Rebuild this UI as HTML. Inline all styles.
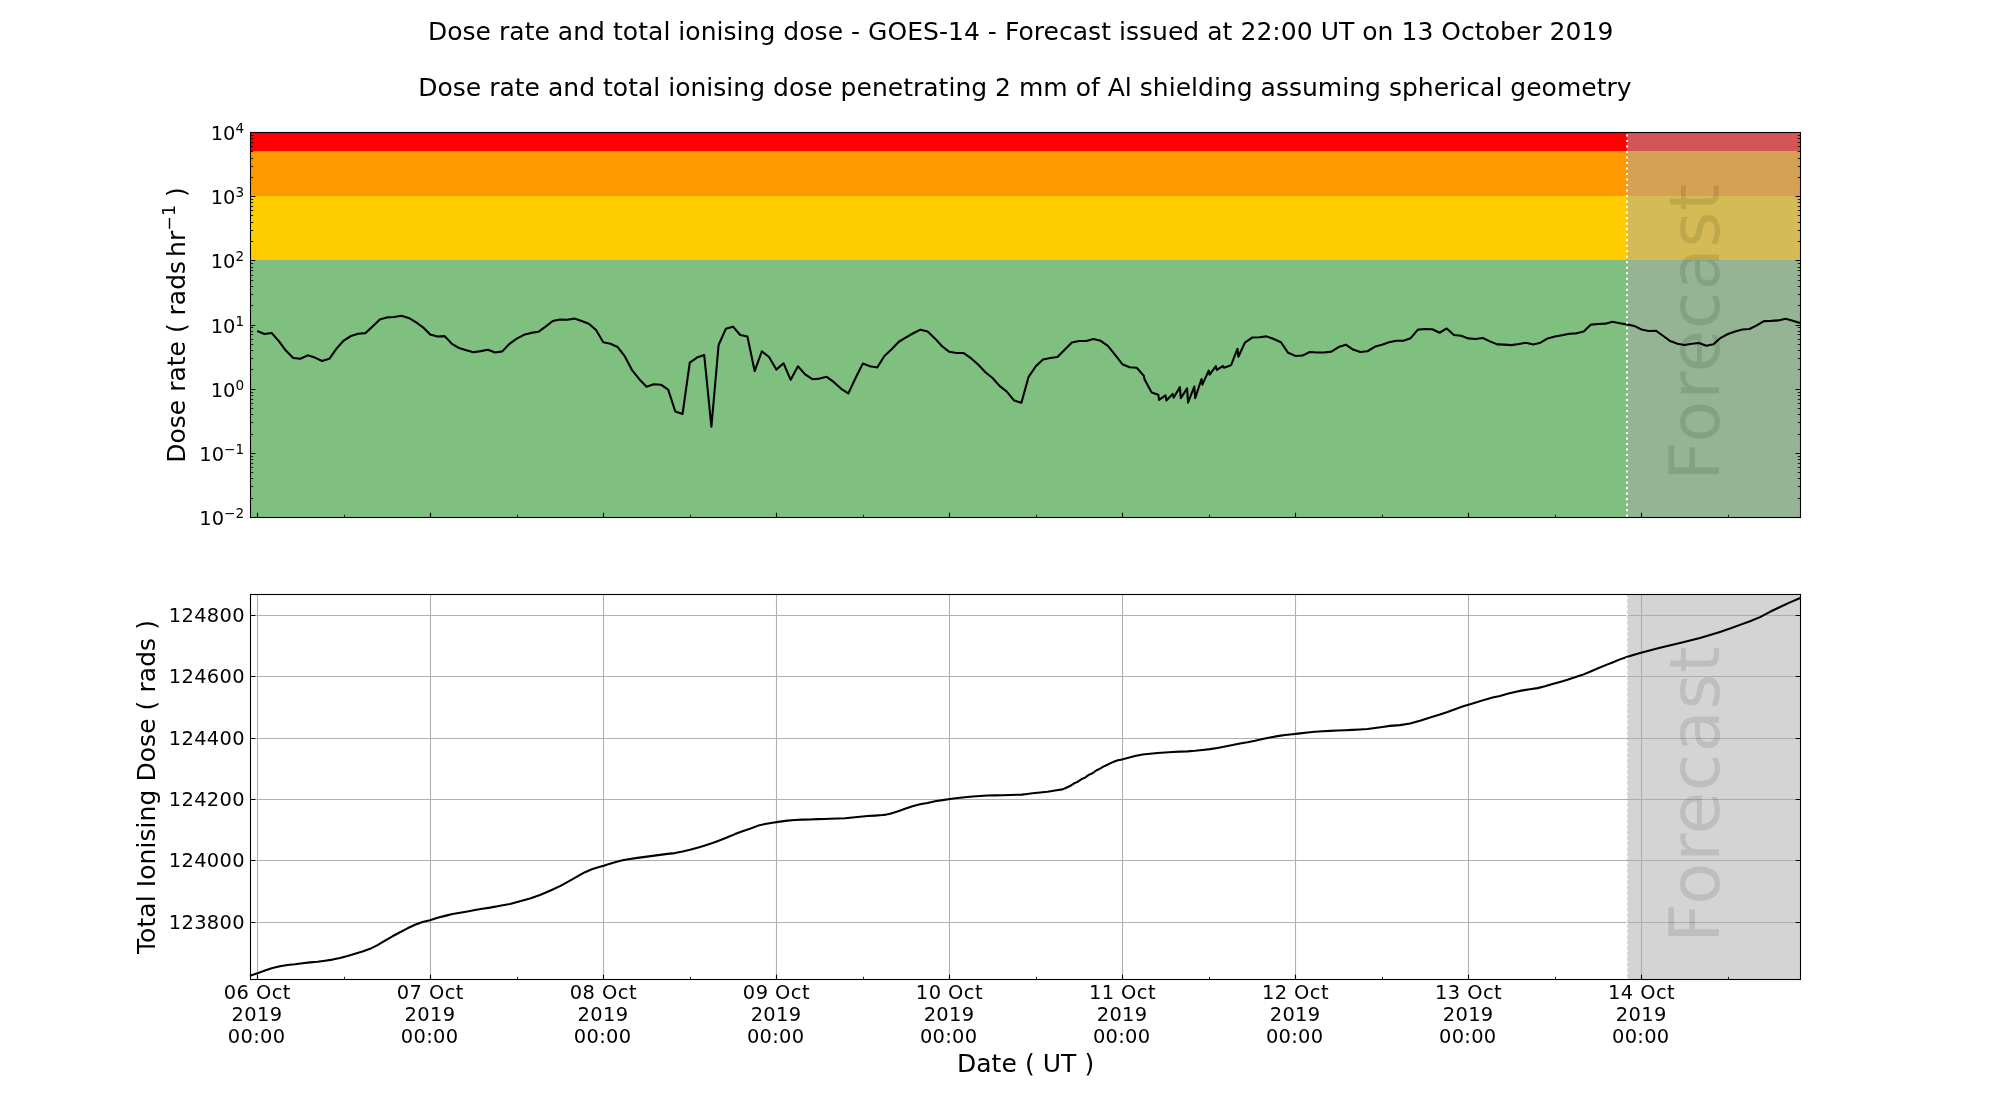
<!DOCTYPE html>
<html lang="en"><head><meta charset="utf-8"><title>Dose rate and total ionising dose - GOES-14</title>
<style>html,body{margin:0;padding:0;background:#fff;}body{width:2000px;height:1100px;overflow:hidden;}svg{display:block;will-change:transform;}text{font-family:"DejaVu Sans","Liberation Sans",sans-serif;fill:#000;}</style></head><body>
<svg width="2000" height="1100" viewBox="0 0 2000 1100">
<rect width="2000" height="1100" fill="#fff"/>
<text x="1020.6" y="40" font-size="25" text-anchor="middle" textLength="1185.45" lengthAdjust="spacing">Dose rate and total ionising dose - GOES-14 - Forecast issued at 22:00 UT on 13 October 2019</text>
<text x="1024.9" y="96" font-size="25" text-anchor="middle" textLength="1213.4" lengthAdjust="spacing">Dose rate and total ionising dose penetrating 2 mm of Al shielding assuming spherical geometry</text>
<rect x="250.5" y="132" width="1550.0" height="19" fill="#ff0000"/>
<rect x="250.5" y="151" width="1550.0" height="45" fill="#ff9900"/>
<rect x="250.5" y="196" width="1550.0" height="64" fill="#ffcc00"/>
<rect x="250.5" y="260" width="1550.0" height="257" fill="#7fbf7f"/>
<rect x="1626.98" y="132.5" width="173.52" height="385.0" fill="#a9a9a9" fill-opacity="0.5"/>
<text transform="translate(1718.8,331.9) rotate(-90)" font-size="68.9" style="fill:#000;fill-opacity:0.1" letter-spacing="0.75" text-anchor="middle">Forecast</text>
<polyline points="257.21,330.96 264.42,333.96 271.63,333.00 278.84,341.16 286.05,350.76 293.26,357.96 300.47,358.80 307.67,355.32 314.88,357.60 322.09,360.96 329.30,358.80 336.51,348.60 343.72,340.56 350.93,336.00 358.14,333.72 365.35,333.12 372.56,326.40 379.77,319.44 386.98,317.40 394.19,316.92 401.40,315.72 408.60,317.88 415.81,322.20 423.02,327.36 430.23,334.56 437.44,336.48 444.65,336.12 451.86,343.80 459.07,348.00 466.28,350.16 473.49,352.20 480.70,351.12 487.91,349.80 495.12,352.56 502.33,351.36 509.53,343.80 516.74,338.64 523.95,334.80 531.16,332.88 538.37,331.80 545.58,326.64 552.79,321.00 560.00,319.56 567.21,319.80 574.42,318.60 581.63,321.00 588.84,323.76 596.05,330.00 603.26,342.24 610.47,343.80 617.67,347.04 624.88,356.40 632.09,370.20 639.30,379.20 646.51,386.76 653.72,384.24 660.93,384.72 668.14,389.52 675.35,411.60 682.56,414.00 689.77,362.64 696.98,357.60 704.19,354.96 711.40,426.72 718.60,345.00 725.81,328.80 733.02,326.64 740.23,335.04 747.44,336.60 754.65,371.04 761.86,351.24 769.07,357.00 776.28,369.60 783.49,363.24 790.70,379.80 797.91,366.24 805.12,374.40 812.33,379.20 819.53,378.60 826.74,376.80 833.95,382.20 841.16,388.80 848.37,393.36 855.58,378.00 862.79,363.60 870.00,366.24 877.21,367.56 884.42,356.04 891.63,349.20 898.84,341.76 906.05,337.44 913.26,333.24 920.47,329.64 927.67,331.56 934.88,338.40 942.09,346.20 949.30,351.84 956.51,352.92 963.72,353.04 970.93,358.20 978.14,364.56 985.35,372.24 992.56,378.00 999.77,386.16 1006.98,391.80 1014.19,400.56 1021.40,402.72 1028.60,376.80 1035.81,366.24 1043.02,359.40 1050.23,357.96 1057.44,357.00 1064.65,349.80 1071.86,342.60 1079.07,340.92 1086.28,341.04 1093.49,339.00 1100.70,340.80 1107.91,345.96 1115.12,354.96 1122.33,364.20 1129.53,367.20 1136.74,367.80 1143.90,375.90 1144.50,379.20 1151.10,391.50 1151.70,392.40 1158.30,394.80 1159.08,399.90 1165.50,395.40 1166.40,400.50 1172.70,393.90 1173.60,397.68 1179.90,387.12 1180.80,398.28 1187.10,388.32 1188.00,402.72 1194.30,386.52 1195.20,398.10 1201.50,379.02 1202.40,384.60 1208.70,370.62 1209.60,374.70 1215.90,366.12 1216.80,369.90 1223.10,366.00 1224.00,367.68 1230.30,365.40 1231.20,364.92 1237.50,348.72 1238.40,356.70 1244.88,342.60 1252.09,337.56 1259.30,337.32 1266.51,336.36 1273.72,339.00 1280.93,342.24 1288.14,352.80 1295.35,355.92 1302.56,355.56 1309.77,351.96 1316.98,352.56 1324.19,352.56 1331.40,351.60 1338.60,347.04 1345.81,344.64 1353.02,349.56 1360.23,352.08 1367.44,351.24 1374.65,346.80 1381.86,344.64 1389.07,342.24 1396.28,340.80 1403.49,340.80 1410.70,338.16 1417.91,329.64 1425.12,329.04 1432.33,329.28 1439.53,332.76 1446.74,328.44 1453.95,334.92 1461.16,335.76 1468.37,338.40 1475.58,339.00 1482.79,338.04 1490.00,341.40 1497.21,344.40 1504.42,344.64 1511.63,345.12 1518.84,344.04 1526.05,342.72 1533.26,344.40 1540.47,342.72 1547.67,338.40 1554.88,336.60 1562.09,335.16 1569.30,333.72 1576.51,333.36 1583.72,331.56 1590.93,324.60 1598.14,324.00 1605.35,323.64 1612.56,321.84 1619.77,323.16 1626.98,324.36 1634.19,325.92 1641.40,329.52 1648.60,330.96 1655.81,330.72 1663.02,335.76 1670.23,341.04 1677.44,343.80 1684.65,345.00 1691.86,343.68 1699.07,342.96 1706.28,345.84 1713.49,344.16 1720.70,337.80 1727.91,333.96 1735.12,331.44 1742.33,329.52 1749.53,329.04 1756.74,325.44 1763.95,321.12 1771.16,320.88 1778.37,320.40 1785.58,318.84 1792.79,320.76 1800.00,323.04" fill="none" stroke="#000" stroke-width="2.08" stroke-linejoin="round" stroke-linecap="butt"/>
<line x1="1626.98" y1="516.7" x2="1626.98" y2="132.5" stroke="#fff" stroke-width="2.08" stroke-dasharray="2.08 3.43"/>
<path d="M250.5 517.5h4.86M1800.5 517.5h-4.86M250.5 453.5h4.86M1800.5 453.5h-4.86M250.5 389.5h4.86M1800.5 389.5h-4.86M250.5 325.5h4.86M1800.5 325.5h-4.86M250.5 260.5h4.86M1800.5 260.5h-4.86M250.5 196.5h4.86M1800.5 196.5h-4.86M250.5 132.5h4.86M1800.5 132.5h-4.86" stroke="#000" stroke-width="1.11" fill="none"/>
<path d="M250.5 498.5h2.78M1800.5 498.5h-2.78M250.5 486.5h2.78M1800.5 486.5h-2.78M250.5 478.5h2.78M1800.5 478.5h-2.78M250.5 472.5h2.78M1800.5 472.5h-2.78M250.5 467.5h2.78M1800.5 467.5h-2.78M250.5 463.5h2.78M1800.5 463.5h-2.78M250.5 459.5h2.78M1800.5 459.5h-2.78M250.5 456.5h2.78M1800.5 456.5h-2.78M250.5 434.5h2.78M1800.5 434.5h-2.78M250.5 422.5h2.78M1800.5 422.5h-2.78M250.5 414.5h2.78M1800.5 414.5h-2.78M250.5 408.5h2.78M1800.5 408.5h-2.78M250.5 403.5h2.78M1800.5 403.5h-2.78M250.5 399.5h2.78M1800.5 399.5h-2.78M250.5 395.5h2.78M1800.5 395.5h-2.78M250.5 392.5h2.78M1800.5 392.5h-2.78M250.5 369.5h2.78M1800.5 369.5h-2.78M250.5 358.5h2.78M1800.5 358.5h-2.78M250.5 350.5h2.78M1800.5 350.5h-2.78M250.5 344.5h2.78M1800.5 344.5h-2.78M250.5 339.5h2.78M1800.5 339.5h-2.78M250.5 334.5h2.78M1800.5 334.5h-2.78M250.5 331.5h2.78M1800.5 331.5h-2.78M250.5 327.5h2.78M1800.5 327.5h-2.78M250.5 305.5h2.78M1800.5 305.5h-2.78M250.5 294.5h2.78M1800.5 294.5h-2.78M250.5 286.5h2.78M1800.5 286.5h-2.78M250.5 280.5h2.78M1800.5 280.5h-2.78M250.5 275.5h2.78M1800.5 275.5h-2.78M250.5 270.5h2.78M1800.5 270.5h-2.78M250.5 267.5h2.78M1800.5 267.5h-2.78M250.5 263.5h2.78M1800.5 263.5h-2.78M250.5 241.5h2.78M1800.5 241.5h-2.78M250.5 230.5h2.78M1800.5 230.5h-2.78M250.5 222.5h2.78M1800.5 222.5h-2.78M250.5 215.5h2.78M1800.5 215.5h-2.78M250.5 210.5h2.78M1800.5 210.5h-2.78M250.5 206.5h2.78M1800.5 206.5h-2.78M250.5 202.5h2.78M1800.5 202.5h-2.78M250.5 199.5h2.78M1800.5 199.5h-2.78M250.5 177.5h2.78M1800.5 177.5h-2.78M250.5 166.5h2.78M1800.5 166.5h-2.78M250.5 158.5h2.78M1800.5 158.5h-2.78M250.5 151.5h2.78M1800.5 151.5h-2.78M250.5 146.5h2.78M1800.5 146.5h-2.78M250.5 142.5h2.78M1800.5 142.5h-2.78M250.5 138.5h2.78M1800.5 138.5h-2.78M250.5 135.5h2.78M1800.5 135.5h-2.78" stroke="#000" stroke-width="0.83" fill="none"/>
<path d="M257.5 517.5v-4.86M430.5 517.5v-4.86M603.5 517.5v-4.86M776.5 517.5v-4.86M949.5 517.5v-4.86M1122.5 517.5v-4.86M1295.5 517.5v-4.86M1468.5 517.5v-4.86M1641.5 517.5v-4.86" stroke="#000" stroke-width="1.11" fill="none"/>
<path d="M344.5 517.5v-2.78M517.5 517.5v-2.78M690.5 517.5v-2.78M863.5 517.5v-2.78M1036.5 517.5v-2.78M1209.5 517.5v-2.78M1382.5 517.5v-2.78M1555.5 517.5v-2.78M1728.5 517.5v-2.78" stroke="#000" stroke-width="0.83" fill="none"/>
<rect x="250.5" y="132.5" width="1550.0" height="385.0" fill="none" stroke="#000" stroke-width="1.1"/>
<text x="244.1" y="524.90" font-size="19.44" text-anchor="end">10<tspan dy="-7.2" font-size="13.6">−2</tspan></text>
<text x="244.1" y="460.90" font-size="19.44" text-anchor="end">10<tspan dy="-7.2" font-size="13.6">−1</tspan></text>
<text x="244.1" y="396.90" font-size="19.44" text-anchor="end">10<tspan dy="-7.2" font-size="13.6">0</tspan></text>
<text x="244.1" y="332.90" font-size="19.44" text-anchor="end">10<tspan dy="-7.2" font-size="13.6">1</tspan></text>
<text x="244.1" y="267.90" font-size="19.44" text-anchor="end">10<tspan dy="-7.2" font-size="13.6">2</tspan></text>
<text x="244.1" y="203.90" font-size="19.44" text-anchor="end">10<tspan dy="-7.2" font-size="13.6">3</tspan></text>
<text x="244.1" y="139.90" font-size="19.44" text-anchor="end">10<tspan dy="-7.2" font-size="13.6">4</tspan></text>
<text transform="translate(185,325) rotate(-90)" font-size="25" text-anchor="middle">Dose rate ( rads<tspan dx="4">hr</tspan><tspan dy="-9.8" font-size="17.5">−1</tspan><tspan dy="9.8"> )</tspan></text>
<rect x="250.5" y="594.5" width="1550.0" height="385.0" fill="#fff"/>
<path d="M257.5 979.5V594.5M430.5 979.5V594.5M603.5 979.5V594.5M776.5 979.5V594.5M949.5 979.5V594.5M1122.5 979.5V594.5M1295.5 979.5V594.5M1468.5 979.5V594.5M1641.5 979.5V594.5M250.5 922.50H1800.5M250.5 860.50H1800.5M250.5 799.50H1800.5M250.5 738.50H1800.5M250.5 676.50H1800.5M250.5 615.50H1800.5" stroke="#b0b0b0" stroke-width="1.1" fill="none"/>
<rect x="1626.98" y="594.5" width="173.52" height="385.0" fill="#a9a9a9" fill-opacity="0.5"/>
<text transform="translate(1718.8,793.9) rotate(-90)" font-size="68.9" style="fill:#000;fill-opacity:0.1" letter-spacing="0.75" text-anchor="middle">Forecast</text>
<polyline points="250.00,975.80 257.50,973.22 265.00,970.52 272.50,968.00 280.00,966.20 287.50,965.00 295.00,964.25 302.50,963.20 310.00,962.40 317.50,961.72 325.00,960.67 332.50,959.60 340.00,957.95 347.50,956.00 355.00,953.80 362.50,951.55 370.00,948.85 377.50,945.10 385.00,940.60 392.50,936.28 400.00,932.23 407.50,928.30 415.00,924.76 422.50,922.03 430.00,920.15 437.50,917.85 445.00,915.87 452.50,914.10 460.00,912.75 467.50,911.40 475.00,910.00 482.50,908.80 490.00,907.62 497.50,906.25 500.00,905.70 510.00,903.95 520.00,901.30 530.00,898.43 540.00,895.00 550.00,890.80 560.00,886.10 570.00,880.60 580.00,874.90 585.00,872.20 592.50,868.95 600.00,866.70 603.75,865.65 607.50,864.45 615.00,862.23 622.50,860.34 630.00,859.02 637.50,857.88 645.00,856.88 652.50,855.90 660.00,854.90 667.50,853.85 675.00,853.10 682.50,851.60 690.00,849.80 697.50,847.70 705.00,845.45 712.50,843.05 720.00,840.20 727.50,837.20 735.00,834.10 742.50,831.32 750.00,828.70 757.50,825.85 765.00,824.00 772.50,822.83 780.00,821.63 787.50,820.65 795.00,820.04 802.50,819.63 810.00,819.43 817.50,819.13 825.00,819.05 830.00,818.78 837.50,818.52 845.00,818.26 852.50,817.48 860.00,816.69 867.50,816.06 875.00,815.60 882.50,815.05 886.25,814.60 890.00,813.70 897.50,811.45 905.00,808.80 912.50,806.36 920.00,804.25 927.50,802.90 935.00,801.33 942.50,800.15 950.00,799.05 957.50,798.04 965.00,797.19 972.50,796.49 980.00,796.08 987.50,795.53 995.00,795.35 1002.50,795.22 1010.00,794.92 1017.50,794.76 1022.00,794.61 1025.00,794.17 1032.50,793.32 1040.00,792.43 1047.50,791.68 1055.00,790.53 1062.50,789.40 1066.25,787.75 1070.00,786.01 1073.75,783.57 1077.50,781.89 1081.25,779.31 1085.00,777.63 1088.75,774.90 1092.50,773.22 1096.25,770.48 1100.00,768.65 1103.75,766.37 1107.50,764.69 1111.25,762.86 1115.00,761.25 1118.75,760.05 1120.00,760.00 1127.50,758.00 1135.00,756.08 1142.50,754.51 1150.00,753.73 1157.50,753.06 1165.00,752.58 1172.50,752.00 1180.00,751.65 1187.50,751.35 1195.00,750.78 1202.50,750.03 1210.00,749.13 1217.50,747.92 1225.00,746.57 1232.50,745.10 1240.00,743.45 1247.50,742.20 1255.00,740.77 1262.50,738.95 1270.00,737.50 1277.50,736.13 1285.00,735.07 1292.50,734.25 1300.00,733.35 1307.50,732.45 1315.00,731.78 1322.50,731.31 1330.00,730.84 1337.50,730.51 1345.00,730.19 1352.50,729.87 1360.00,729.55 1367.50,729.08 1375.00,728.01 1382.50,726.93 1390.00,725.86 1400.00,725.13 1410.00,723.51 1420.00,720.68 1432.50,716.74 1440.00,714.47 1447.50,712.05 1455.00,709.18 1462.50,706.60 1470.00,704.33 1477.50,702.10 1485.00,699.63 1492.50,697.58 1500.00,695.93 1507.50,693.86 1515.00,691.95 1522.50,690.37 1530.00,689.33 1537.50,688.13 1545.00,686.35 1552.50,684.05 1560.00,681.94 1567.50,679.68 1575.00,677.35 1582.50,674.85 1590.00,671.70 1597.50,668.48 1605.00,665.39 1612.50,662.48 1620.00,659.38 1627.50,656.68 1635.00,654.45 1640.00,653.05 1660.00,647.70 1680.00,642.90 1690.00,640.50 1700.00,637.90 1710.00,635.10 1720.00,631.93 1730.00,628.55 1740.00,624.88 1750.00,621.30 1760.00,617.10 1770.00,611.80 1780.00,607.05 1790.00,602.40 1800.20,598.00" fill="none" stroke="#000" stroke-width="2.08" stroke-linejoin="round"/>
<line x1="1626.98" y1="979.5" x2="1626.98" y2="594.5" stroke="#fff" stroke-width="2.08" stroke-dasharray="2.08 3.43"/>
<path d="M250.5 922.50h4.86M1800.5 922.50h-4.86M250.5 860.50h4.86M1800.5 860.50h-4.86M250.5 799.50h4.86M1800.5 799.50h-4.86M250.5 738.50h4.86M1800.5 738.50h-4.86M250.5 676.50h4.86M1800.5 676.50h-4.86M250.5 615.50h4.86M1800.5 615.50h-4.86" stroke="#000" stroke-width="1.1" fill="none"/>
<path d="M257.5 979.5v-4.86M430.5 979.5v-4.86M603.5 979.5v-4.86M776.5 979.5v-4.86M949.5 979.5v-4.86M1122.5 979.5v-4.86M1295.5 979.5v-4.86M1468.5 979.5v-4.86M1641.5 979.5v-4.86" stroke="#000" stroke-width="1.11" fill="none"/>
<path d="M344.5 979.5v-2.78M517.5 979.5v-2.78M690.5 979.5v-2.78M863.5 979.5v-2.78M1036.5 979.5v-2.78M1209.5 979.5v-2.78M1382.5 979.5v-2.78M1555.5 979.5v-2.78M1728.5 979.5v-2.78" stroke="#000" stroke-width="0.83" fill="none"/>
<rect x="250.5" y="594.5" width="1550.0" height="385.0" fill="none" stroke="#000" stroke-width="1.1"/>
<text x="244.5" y="928.80" font-size="19.44" text-anchor="end" textLength="75.7" lengthAdjust="spacing">123800</text>
<text x="244.5" y="866.80" font-size="19.44" text-anchor="end" textLength="75.7" lengthAdjust="spacing">124000</text>
<text x="244.5" y="805.80" font-size="19.44" text-anchor="end" textLength="75.7" lengthAdjust="spacing">124200</text>
<text x="244.5" y="744.80" font-size="19.44" text-anchor="end" textLength="75.7" lengthAdjust="spacing">124400</text>
<text x="244.5" y="682.80" font-size="19.44" text-anchor="end" textLength="75.7" lengthAdjust="spacing">124600</text>
<text x="244.5" y="621.80" font-size="19.44" text-anchor="end" textLength="75.7" lengthAdjust="spacing">124800</text>
<text transform="translate(155,787) rotate(-90)" font-size="25" text-anchor="middle" textLength="334" lengthAdjust="spacing">Total Ionising Dose ( rads )</text>
<text x="257.11" y="999" font-size="19.44" text-anchor="middle" textLength="66.7" lengthAdjust="spacing">06 Oct</text>
<text x="256.81" y="1021" font-size="19.44" text-anchor="middle" textLength="50.5" lengthAdjust="spacing">2019</text>
<text x="256.41" y="1043" font-size="19.44" text-anchor="middle" textLength="57.2" lengthAdjust="spacing">00:00</text>
<text x="430.13" y="999" font-size="19.44" text-anchor="middle" textLength="66.7" lengthAdjust="spacing">07 Oct</text>
<text x="429.83" y="1021" font-size="19.44" text-anchor="middle" textLength="50.5" lengthAdjust="spacing">2019</text>
<text x="429.43" y="1043" font-size="19.44" text-anchor="middle" textLength="57.2" lengthAdjust="spacing">00:00</text>
<text x="603.16" y="999" font-size="19.44" text-anchor="middle" textLength="66.7" lengthAdjust="spacing">08 Oct</text>
<text x="602.86" y="1021" font-size="19.44" text-anchor="middle" textLength="50.5" lengthAdjust="spacing">2019</text>
<text x="602.46" y="1043" font-size="19.44" text-anchor="middle" textLength="57.2" lengthAdjust="spacing">00:00</text>
<text x="776.18" y="999" font-size="19.44" text-anchor="middle" textLength="66.7" lengthAdjust="spacing">09 Oct</text>
<text x="775.88" y="1021" font-size="19.44" text-anchor="middle" textLength="50.5" lengthAdjust="spacing">2019</text>
<text x="775.48" y="1043" font-size="19.44" text-anchor="middle" textLength="57.2" lengthAdjust="spacing">00:00</text>
<text x="949.20" y="999" font-size="19.44" text-anchor="middle" textLength="66.7" lengthAdjust="spacing">10 Oct</text>
<text x="948.90" y="1021" font-size="19.44" text-anchor="middle" textLength="50.5" lengthAdjust="spacing">2019</text>
<text x="948.50" y="1043" font-size="19.44" text-anchor="middle" textLength="57.2" lengthAdjust="spacing">00:00</text>
<text x="1122.23" y="999" font-size="19.44" text-anchor="middle" textLength="66.7" lengthAdjust="spacing">11 Oct</text>
<text x="1121.93" y="1021" font-size="19.44" text-anchor="middle" textLength="50.5" lengthAdjust="spacing">2019</text>
<text x="1121.53" y="1043" font-size="19.44" text-anchor="middle" textLength="57.2" lengthAdjust="spacing">00:00</text>
<text x="1295.25" y="999" font-size="19.44" text-anchor="middle" textLength="66.7" lengthAdjust="spacing">12 Oct</text>
<text x="1294.95" y="1021" font-size="19.44" text-anchor="middle" textLength="50.5" lengthAdjust="spacing">2019</text>
<text x="1294.55" y="1043" font-size="19.44" text-anchor="middle" textLength="57.2" lengthAdjust="spacing">00:00</text>
<text x="1468.27" y="999" font-size="19.44" text-anchor="middle" textLength="66.7" lengthAdjust="spacing">13 Oct</text>
<text x="1467.97" y="1021" font-size="19.44" text-anchor="middle" textLength="50.5" lengthAdjust="spacing">2019</text>
<text x="1467.57" y="1043" font-size="19.44" text-anchor="middle" textLength="57.2" lengthAdjust="spacing">00:00</text>
<text x="1641.30" y="999" font-size="19.44" text-anchor="middle" textLength="66.7" lengthAdjust="spacing">14 Oct</text>
<text x="1641.00" y="1021" font-size="19.44" text-anchor="middle" textLength="50.5" lengthAdjust="spacing">2019</text>
<text x="1640.60" y="1043" font-size="19.44" text-anchor="middle" textLength="57.2" lengthAdjust="spacing">00:00</text>
<text x="1025.55" y="1072" font-size="25" text-anchor="middle" textLength="137.3" lengthAdjust="spacing">Date ( UT )</text>
</svg></body></html>
